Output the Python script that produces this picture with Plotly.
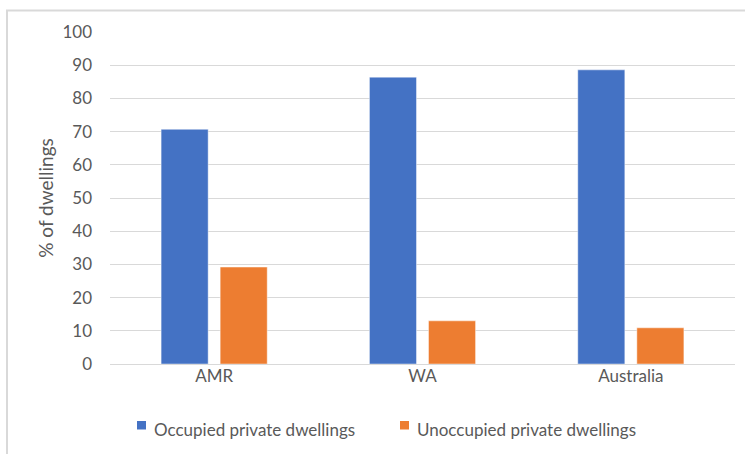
import plotly.graph_objects as go

# Share of dwellings by occupancy status
regions = ["AMR", "WA", "Australia"]
occupied = [70.7, 86.4, 88.6]
unoccupied = [29.2, 13.0, 10.9]
y_ticks = [0, 10, 20, 30, 40, 50, 60, 70, 80, 90, 100]
series_names = ["Occupied private dwellings", "Unoccupied private dwellings"]

BLUE = "#4472C4"
ORANGE = "#ED7D31"
TEXT = "#595959"
GRID = "#D9D9D9"
FONT = "Lato, Open Sans, sans-serif"
FS = 17

W, H = 745, 454
L, R, T, B = 110, 10, 32, 90

fig = go.Figure()
for name, vals, col in [(series_names[0], occupied, BLUE), (series_names[1], unoccupied, ORANGE)]:
    fig.add_trace(go.Bar(
        name=name, x=regions, y=vals, showlegend=False,
        marker=dict(color=col, line=dict(color="rgba(255,255,255,0.45)", width=1)),
    ))

plot_w = W - L - R
plot_h = H - T - B


def px_x(p):
    return (p - L) / plot_w


def px_y(p):
    return (H - B - p) / plot_h


# Light outer chart frame
fig.add_shape(
    type="rect", xref="paper", yref="paper",
    x0=px_x(7), x1=px_x(W + 20), y0=px_y(H + 20), y1=px_y(10.5),
    line=dict(color=GRID, width=2), fillcolor="rgba(0,0,0,0)", layer="below",
)

# Legend drawn as swatches with labels beneath the plot
legend_items = [(series_names[0], BLUE, 137), (series_names[1], ORANGE, 400)]
for name, col, x0 in legend_items:
    fig.add_shape(
        type="rect", xref="paper", yref="paper",
        x0=px_x(x0), x1=px_x(x0 + 9), y0=px_y(429.5), y1=px_y(421),
        line=dict(width=0), fillcolor=col,
    )
    fig.add_annotation(
        xref="paper", yref="paper", x=px_x(x0 + 15), y=px_y(429),
        xanchor="left", yanchor="middle", showarrow=False,
        text=name, font=dict(family=FONT, size=FS, color=TEXT),
    )

fig.update_layout(
    width=W, height=H,
    margin=dict(l=L, r=R, t=T, b=B),
    paper_bgcolor="white", plot_bgcolor="white",
    font=dict(family=FONT, color=TEXT, size=FS),
    barmode="group", bargap=0.433, bargroupgap=0.203,
    showlegend=False,
    xaxis=dict(
        showgrid=False, showline=False, ticks="", zeroline=False,
        tickfont=dict(family=FONT, size=FS, color=TEXT),
    ),
    yaxis=dict(
        range=[0, 100], tickvals=y_ticks, ticks="", showline=False,
        gridcolor=GRID, gridwidth=1, zeroline=True, zerolinecolor=GRID, zerolinewidth=1,
        tickfont=dict(family=FONT, size=FS, color=TEXT),
        ticklabelstandoff=17,
        title=dict(text="% of dwellings", font=dict(family=FONT, size=19, color=TEXT), standoff=3),
    ),
)

fig.write_html("out.html")
